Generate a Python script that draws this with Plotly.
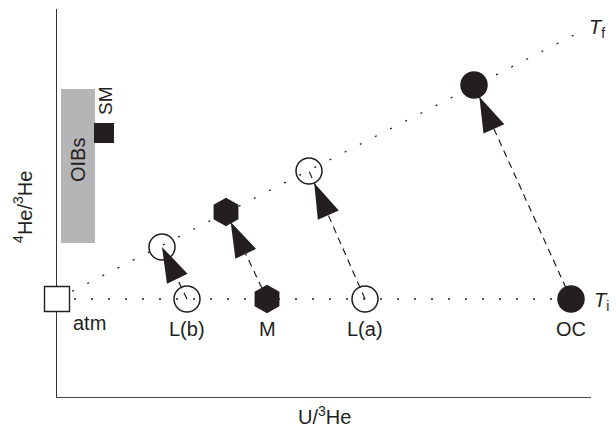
import plotly.graph_objects as go

# ---- data (arbitrary units) ----
samples = ["L(b)", "M", "L(a)", "OC"]
u_initial = [1.30, 2.10, 3.08, 5.14]
he_initial = [0.98, 0.98, 0.98, 0.98]
u_final = [1.05, 1.69, 2.52, 4.17]
he_final = [1.50, 1.85, 2.26, 3.12]
sample_symbols = ["circle-open", "hexagon", "circle-open", "circle"]
arrow_standoff = [0, 11, 13, 13]

atm_u, atm_he = [0.0], [0.98]
tf_end_u, tf_end_he = 5.23, 3.65
ti_end_u = 5.14

oib_u = [0.04, 0.38]
oib_he = [1.54, 3.08]
sm_u, sm_he = [0.47], [2.64]

X_RANGE = [0, 5.34]
Y_RANGE = [0, 3.88]

INK = "#231f20"
FONT = "Liberation Sans, Arial, Helvetica, sans-serif"

fig = go.Figure()

# OIBs band
fig.add_shape(type="rect", x0=oib_u[0], x1=oib_u[1], y0=oib_he[0], y1=oib_he[1],
              fillcolor="#b5b5b7", line=dict(width=0), layer="below")

# T_i and T_f dotted lines
fig.add_trace(go.Scatter(x=[atm_u[0], ti_end_u], y=[atm_he[0], atm_he[0]], mode="lines",
                         line=dict(color=INK, width=1.3, dash="2px,15px"),
                         hoverinfo="skip", showlegend=False))
fig.add_trace(go.Scatter(x=[atm_u[0], tf_end_u], y=[atm_he[0], tf_end_he], mode="lines",
                         line=dict(color=INK, width=1.3, dash="2px,15px"),
                         hoverinfo="skip", showlegend=False))

# dashed arrow shafts
for i in range(len(samples)):
    fig.add_trace(go.Scatter(
        x=[u_initial[i], u_final[i]], y=[he_initial[i], he_final[i]],
        mode="lines", line=dict(color=INK, width=1.2, dash="7px,5px"),
        hoverinfo="skip", showlegend=False, cliponaxis=False))

# arrow heads
for i in range(len(samples)):
    fig.add_trace(go.Scatter(
        x=[u_initial[i], u_final[i]], y=[he_initial[i], he_final[i]],
        mode="markers",
        marker=dict(symbol="arrow", size=[0, 37], color=INK, opacity=1,
                    angleref="previous", standoff=[0, arrow_standoff[i]],
                    line=dict(width=0)),
        hoverinfo="skip", showlegend=False, cliponaxis=False))

# sample markers (initial and final)
for i in range(len(samples)):
    sym = sample_symbols[i]
    size = 27 if sym == "hexagon" else 26
    fig.add_trace(go.Scatter(
        x=[u_initial[i], u_final[i]], y=[he_initial[i], he_final[i]], mode="markers",
        marker=dict(symbol=sym, size=size, color=INK, opacity=1,
                    line=dict(color=INK, width=1.5)),
        hoverinfo="skip", showlegend=False, cliponaxis=False))

# atm square
fig.add_trace(go.Scatter(x=atm_u, y=atm_he, mode="markers",
                         marker=dict(symbol="square", size=25, color="white",
                                     line=dict(color=INK, width=1.4)),
                         hoverinfo="skip", showlegend=False, cliponaxis=False))
# SM square
fig.add_trace(go.Scatter(x=sm_u, y=sm_he, mode="markers",
                         marker=dict(symbol="square", size=20, color=INK, line=dict(width=0)),
                         hoverinfo="skip", showlegend=False, cliponaxis=False))

ann = []
lab_font = dict(family=FONT, size=20, color=INK)
for i, s in enumerate(samples):
    ann.append(dict(x=u_initial[i], y=he_initial[i], text=s, showarrow=False,
                    xanchor="center", yanchor="middle", yshift=-30, font=lab_font))
ann.append(dict(x=atm_u[0], y=atm_he[0], text="atm", showarrow=False,
                xanchor="center", yanchor="middle", xshift=32, yshift=-24, font=lab_font))
ann.append(dict(x=ti_end_u, y=atm_he[0], text="<i>T</i><sub>i</sub>", showarrow=False,
                xanchor="left", yanchor="middle", xshift=21, yshift=-2, font=lab_font))
ann.append(dict(x=tf_end_u, y=tf_end_he, text="<i>T</i><sub>f</sub>", showarrow=False,
                xanchor="left", yanchor="middle", xshift=7, yshift=4, font=lab_font))
ann.append(dict(x=(oib_u[0] + oib_u[1]) / 2, y=(oib_he[0] + oib_he[1]) / 2 + 0.06,
                text="OIBs", textangle=-90, showarrow=False,
                xanchor="center", yanchor="middle", font=lab_font))
ann.append(dict(x=sm_u[0], y=sm_he[0], text="SM", textangle=-90, showarrow=False,
                xanchor="center", yanchor="middle", yshift=32, xshift=1,
                font=dict(family=FONT, size=19, color=INK)))
ann.append(dict(xref="paper", yref="paper", x=0, y=0.49, text="<sup>4</sup>He/<sup>3</sup>He",
                textangle=-90, showarrow=False, xanchor="center", yanchor="middle",
                xshift=-34, font=lab_font))
ann.append(dict(xref="paper", yref="paper", x=0.5, y=0, text="U/<sup>3</sup>He",
                showarrow=False, xanchor="center", yanchor="bottom", yshift=-32,
                borderpad=0, font=lab_font))

fig.update_layout(
    width=616, height=429,
    margin=dict(l=57, r=25, t=9, b=32),
    paper_bgcolor="white", plot_bgcolor="white",
    xaxis=dict(range=X_RANGE, showgrid=False, zeroline=False, showticklabels=False,
               ticks="", showline=True, linecolor="#4a4a4a", linewidth=1.3,
               fixedrange=True, layer="below traces"),
    yaxis=dict(range=Y_RANGE, showgrid=False, zeroline=False, showticklabels=False,
               ticks="", showline=True, linecolor="#333333", linewidth=1.3,
               fixedrange=True, layer="below traces"),
    annotations=ann,
    showlegend=False,
)

fig.write_html("out.html", config={"displayModeBar": False},
               post_script="document.body.style.margin='0';document.body.style.overflow='hidden';")
